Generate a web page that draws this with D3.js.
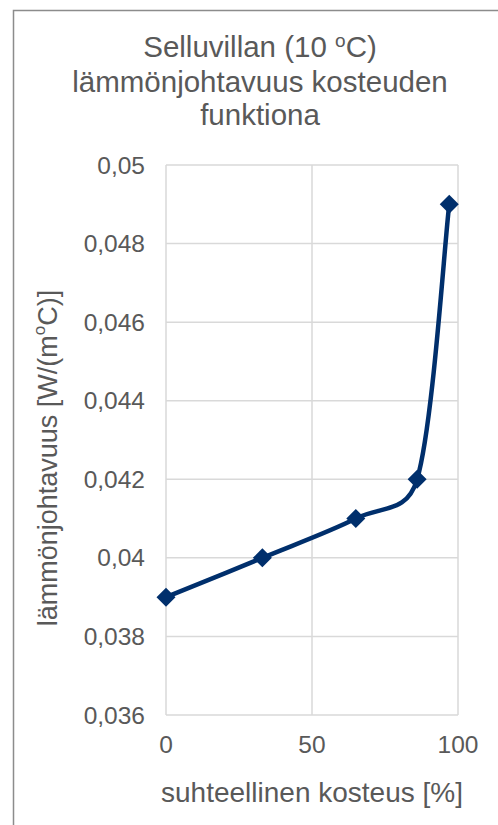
<!DOCTYPE html>
<html>
<head>
<meta charset="utf-8">
<script src="https://cdn.jsdelivr.net/npm/d3@7"></script>
<style>
  html, body { margin: 0; padding: 0; background: #fff; }
  svg { display: block; }
  text { font-family: "Liberation Sans", Arial, sans-serif; fill: #595959; }
</style>
</head>
<body>
<svg id="chart" width="498" height="825"></svg>
<script>
// Data
const humidity = [0, 33, 65, 86, 97];
const conductivity = [0.039, 0.040, 0.041, 0.042, 0.049];
const xTicks = [0, 50, 100];
const yTicks = [0.036, 0.038, 0.04, 0.042, 0.044, 0.046, 0.048, 0.05];
const titleLines = ["Selluvillan (10 ", "lämmönjohtavuus kosteuden", "funktiona"];
const xTitle = "suhteellinen kosteus [%]";

const svg = d3.select("#chart");
const W = 498, H = 825;

svg.append("rect").attr("width", W).attr("height", H).attr("fill", "#fff");
// chart border (extends beyond the visible area on right/bottom)
svg.append("rect")
  .attr("x", 13.5).attr("y", 10.5)
  .attr("width", W + 20).attr("height", H + 20)
  .attr("fill", "none").attr("stroke", "#8c8c8c").attr("stroke-width", 1.5);

const x = d3.scaleLinear().domain([0, 100]).range([166, 458]);
const y = d3.scaleLinear().domain([0.036, 0.05]).range([715, 165]);

const locale = d3.formatLocale({decimal: ",", thousands: " ", grouping: [3], currency: ["", "€"]});
const yFmt = v => locale.format("~g")(+v.toFixed(3));

// gridlines
const grid = svg.append("g");
grid.selectAll("line.h").data(yTicks).join("line")
  .attr("x1", x(0)).attr("x2", x(100))
  .attr("y1", d => y(d)).attr("y2", d => y(d))
  .attr("stroke", "#d9d9d9").attr("stroke-width", 1.5);
grid.selectAll("line.v").data(xTicks).join("line")
  .attr("x1", d => x(d)).attr("x2", d => x(d))
  .attr("y1", y(0.05)).attr("y2", y(0.036))
  .attr("stroke", "#d9d9d9").attr("stroke-width", 1.5);

// y tick labels
svg.append("g").selectAll("text").data(yTicks).join("text")
  .attr("x", 145).attr("y", d => y(d)).attr("dy", "0.35em")
  .attr("text-anchor", "end").attr("font-size", 24.5)
  .text(yFmt);

// x tick labels
svg.append("g").selectAll("text").data(xTicks).join("text")
  .attr("x", d => x(d)).attr("y", 753)
  .attr("text-anchor", "middle").attr("font-size", 24.5)
  .text(d => d);

// x title
svg.append("text").attr("x", 312).attr("y", 802)
  .attr("text-anchor", "middle").attr("font-size", 28)
  .text(xTitle);

// y title
const yt = svg.append("text")
  .attr("transform", "translate(48,458) rotate(-90)")
  .attr("text-anchor", "middle").attr("dominant-baseline", "central")
  .attr("font-size", 27);
yt.append("tspan").text("lämmönjohtavuus [W/(m");
yt.append("tspan").attr("font-size", 17).attr("dy", -9).text("o");
yt.append("tspan").attr("dy", 9).text("C)]");

// chart title
const t = svg.append("text").attr("text-anchor", "middle").attr("font-size", 29.5);
t.append("tspan").attr("x", 260).attr("y", 57).text(titleLines[0]);
t.append("tspan").attr("font-size", 19).attr("dy", -10).text("o");
t.append("tspan").attr("dy", 10).text("C)");
t.append("tspan").attr("x", 260).attr("y", 92).text(titleLines[1]);
t.append("tspan").attr("x", 260).attr("y", 125).text(titleLines[2]);

// smoothed line (spreadsheet-style Bezier smoothing, control arms clamped to half segment)
const pts = humidity.map((h, i) => [h, conductivity[i]]);
const P = pts.map(d => [x(d[0]), y(d[1])]);
const dist = (a, b) => Math.hypot(b[0] - a[0], b[1] - a[1]);
const path = d3.path();
path.moveTo(P[0][0], P[0][1]);
for (let i = 0; i < P.length - 1; i++) {
  const p0 = P[Math.max(i - 1, 0)], p1 = P[i], p2 = P[i + 1], p3 = P[Math.min(i + 2, P.length - 1)];
  const d12 = dist(p1, p2), d02 = dist(p0, p2), d13 = dist(p1, p3);
  const f0 = (d02 / 6 < d12 / 2) ? 1 / 6 : d12 / d02 / 2;
  const f3 = (d13 / 6 < d12 / 2) ? 1 / 6 : d12 / d13 / 2;
  path.bezierCurveTo(
    p1[0] + (p2[0] - p0[0]) * f0, p1[1] + (p2[1] - p0[1]) * f0,
    p2[0] - (p3[0] - p1[0]) * f3, p2[1] - (p3[1] - p1[1]) * f3,
    p2[0], p2[1]);
}
svg.append("path").attr("d", path.toString())
  .attr("fill", "none").attr("stroke", "#002f6c").attr("stroke-width", 4.5)
  .attr("stroke-linejoin", "round");

// markers
const r = 9.5;
svg.append("g").selectAll("path").data(pts).join("path")
  .attr("transform", d => `translate(${x(d[0])},${y(d[1])})`)
  .attr("d", `M0,${-r}L${r},0L0,${r}L${-r},0Z`)
  .attr("fill", "#002f6c");
</script>
</body>
</html>
